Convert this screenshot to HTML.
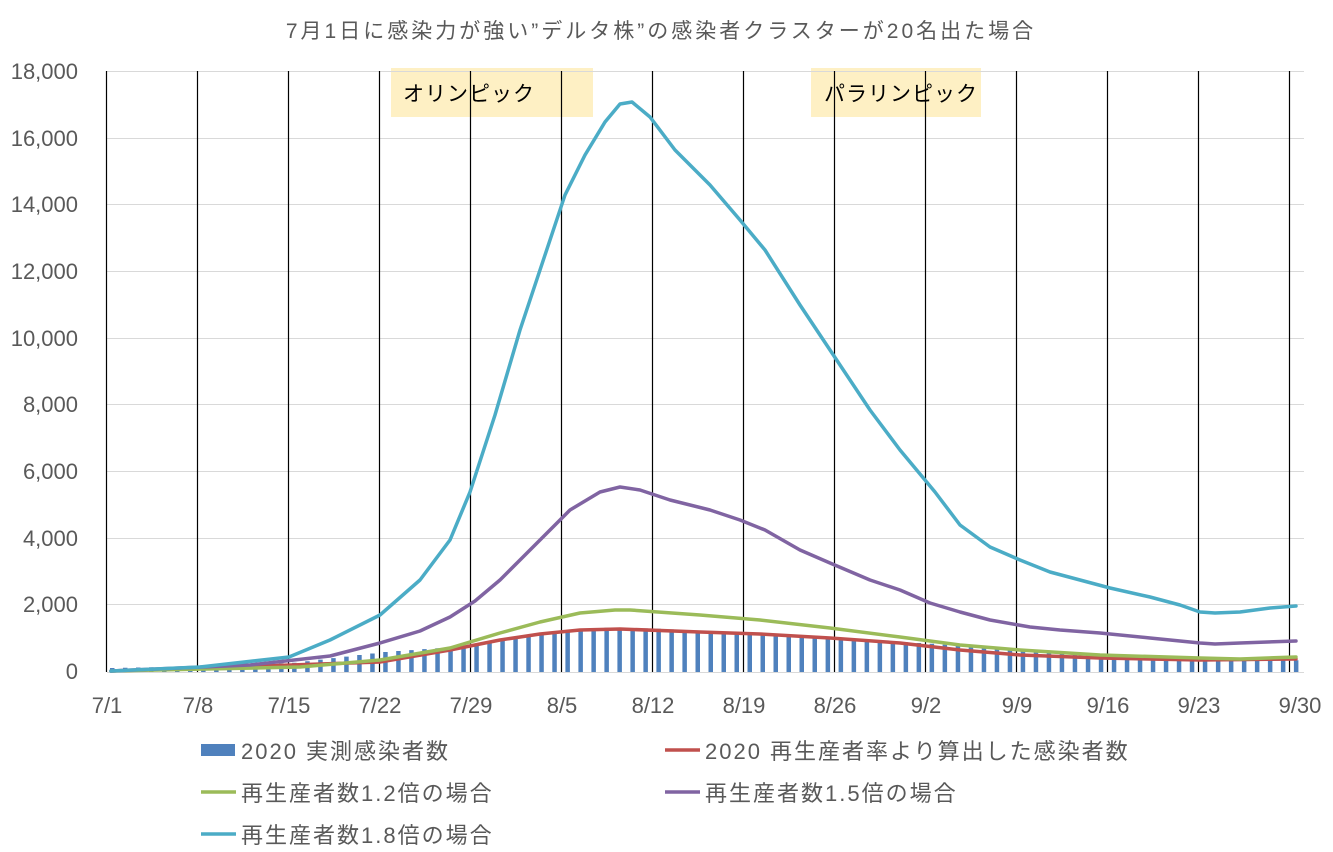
<!DOCTYPE html>
<html><head><meta charset="utf-8"><style>
body{margin:0;background:#fff;}
svg text{font-family:"Liberation Sans","Noto Sans CJK JP",sans-serif;}
</style></head><body>
<svg width="1333" height="847" viewBox="0 0 1333 847" xmlns="http://www.w3.org/2000/svg">
<text x="661" y="38" font-size="21" letter-spacing="3" fill="#595959" text-anchor="middle">7月1日に感染力が強い”デルタ株”の感染者クラスターが20名出た場合</text>
<rect x="391" y="68" width="202" height="49" fill="#FEF0C4"/>
<rect x="811" y="68" width="170" height="49" fill="#FEF0C4"/>
<g stroke="#d9d9d9" stroke-width="1">
<line x1="107" y1="71.5" x2="1304" y2="71.5"/><line x1="107" y1="138.5" x2="1304" y2="138.5"/>
<line x1="107" y1="204.5" x2="1304" y2="204.5"/><line x1="107" y1="271.5" x2="1304" y2="271.5"/>
<line x1="107" y1="338.5" x2="1304" y2="338.5"/><line x1="107" y1="404.5" x2="1304" y2="404.5"/>
<line x1="107" y1="471.5" x2="1304" y2="471.5"/><line x1="107" y1="538.5" x2="1304" y2="538.5"/>
<line x1="107" y1="604.5" x2="1304" y2="604.5"/><line x1="107" y1="672.5" x2="1304" y2="672.5"/>
</g>
<g stroke="#000" stroke-width="1.2">
<line x1="106.5" y1="71" x2="106.5" y2="672"/><line x1="197.5" y1="71" x2="197.5" y2="672"/>
<line x1="288.5" y1="71" x2="288.5" y2="672"/><line x1="379.5" y1="71" x2="379.5" y2="672"/>
<line x1="470.5" y1="71" x2="470.5" y2="672"/><line x1="561.5" y1="71" x2="561.5" y2="672"/>
<line x1="652.5" y1="71" x2="652.5" y2="672"/><line x1="743.5" y1="71" x2="743.5" y2="672"/>
<line x1="834.5" y1="71" x2="834.5" y2="672"/><line x1="925.5" y1="71" x2="925.5" y2="672"/>
<line x1="1016.5" y1="71" x2="1016.5" y2="672"/><line x1="1107.5" y1="71" x2="1107.5" y2="672"/>
<line x1="1198.5" y1="71" x2="1198.5" y2="672"/><line x1="1289.5" y1="71" x2="1289.5" y2="672"/>
</g>
<text x="403" y="101" font-size="21" letter-spacing="1" fill="#000">オリンピック</text>
<text x="824" y="101" font-size="21" letter-spacing="1" fill="#000">パラリンピック</text>
<path fill="#4F81BD" d="M110,672v-4h4.5V672z M123,672v-4.2h4.5V672z M136,672v-4.5h4.5V672z M149,672v-4.7h4.5V672z M162,672v-5h4.5V672z M175,672v-5.2h4.5V672z M188,672v-5.5h4.5V672z M201.1,672v-5.7h4.5V672z
M214.1,672v-6.2h4.5V672z M227.1,672v-6.7h4.5V672z M240.1,672v-7.2h4.5V672z M253.1,672v-7.8h4.5V672z M266.1,672v-8.3h4.5V672z M279.1,672v-8.8h4.5V672z M292.1,672v-9.3h4.5V672z
M305.2,672v-10.8h4.5V672z M318.2,672v-12.4h4.5V672z M331.2,672v-13.9h4.5V672z M344.2,672v-15.4h4.5V672z M357.2,672v-17h4.5V672z M370.2,672v-18.5h4.5V672z M383.2,672v-20h4.5V672z
M396.2,672v-21h4.5V672z M409.2,672v-21.9h4.5V672z M422.2,672v-22.9h4.5V672z M435.3,672v-23.8h4.5V672z M448.3,672v-24.8h4.5V672z M461.3,672v-25.7h4.5V672z M474.3,672v-26.7h4.5V672z
M487.3,672v-28.8h4.5V672z M500.3,672v-31h4.5V672z M513.3,672v-33.1h4.5V672z M526.3,672v-35.3h4.5V672z M539.3,672v-37.4h4.5V672z M552.3,672v-39.6h4.5V672z M565.4,672v-41.7h4.5V672z
M578.4,672v-42.6h4.5V672z M591.4,672v-43.4h4.5V672z M604.4,672v-44.3h4.5V672z M617.4,672v-44h4.5V672z M630.4,672v-43.8h4.5V672z M643.4,672v-43.6h4.5V672z M656.4,672v-43.3h4.5V672z
M669.4,672v-42.6h4.5V672z M682.4,672v-41.9h4.5V672z M695.5,672v-41.2h4.5V672z M708.5,672v-40.4h4.5V672z M721.5,672v-39.7h4.5V672z M734.5,672v-39h4.5V672z M747.5,672v-38.3h4.5V672z
M760.5,672v-37.6h4.5V672z M773.5,672v-36.9h4.5V672z M786.5,672v-36.2h4.5V672z M799.5,672v-35.5h4.5V672z M812.5,672v-34.8h4.5V672z M825.6,672v-34h4.5V672z M838.6,672v-33.3h4.5V672z
M851.6,672v-32.6h4.5V672z M864.6,672v-31.9h4.5V672z M877.6,672v-31.2h4.5V672z M890.6,672v-30.5h4.5V672z M903.6,672v-29.8h4.5V672z M916.6,672v-29h4.5V672z M929.6,672v-28.3h4.5V672z
M942.6,672v-27.4h4.5V672z M955.7,672v-26.4h4.5V672z M968.7,672v-25.5h4.5V672z M981.7,672v-24.5h4.5V672z M994.7,672v-23.6h4.5V672z M1007.7,672v-22.6h4.5V672z M1020.7,672v-21.7h4.5V672z
M1033.7,672v-21h4.5V672z M1046.7,672v-20.3h4.5V672z M1059.7,672v-19.6h4.5V672z M1072.7,672v-18.9h4.5V672z M1085.8,672v-18.1h4.5V672z M1098.8,672v-17.4h4.5V672z M1111.8,672v-16.7h4.5V672z
M1124.8,672v-16.2h4.5V672z M1137.8,672v-15.7h4.5V672z M1150.8,672v-15.2h4.5V672z M1163.8,672v-14.7h4.5V672z M1176.8,672v-14.3h4.5V672z M1189.8,672v-13.8h4.5V672z M1202.8,672v-13.3h4.5V672z
M1215.9,672v-13.1h4.5V672z M1228.9,672v-12.8h4.5V672z M1241.9,672v-12.6h4.5V672z M1254.9,672v-12.4h4.5V672z M1267.9,672v-12.2h4.5V672z M1280.9,672v-11.9h4.5V672z M1293.9,672v-11.7h4.5V672z"/>
<g fill="none" stroke-width="3.5" stroke-linejoin="round" stroke-linecap="round">
<polyline stroke="#C0504D" points="111,671 380,662 450,650 500,640 540,634 580,630 620,629 700,632 760,634 830,638 900,643 960,650 1020,655 1100,658 1200,660 1296,659"/>
<polyline stroke="#9BBB59" points="111,671 300,667 380,660 450,648 500,633 540,622 580,613 615,610 630,610 700,615 760,620 830,628 900,637 960,645 1020,650 1100,655 1200,658 1240,659 1296,657"/>
<polyline stroke="#8064A2" points="111,671 250,665 330,656 380,643 420,631 450,617 475,601 500,580 540,540 570,510 600,492 620,487 640,490 670,500 710,510 740,520 765,530 800,550 830,563 870,580 900,590 930,603 960,612 990,620 1030,627 1060,630 1100,633 1150,638 1200,643 1215,644 1240,643 1296,641"/>
<polyline stroke="#4BACC6" points="111,671 200,667 289,657 330,640 380,615 420,580 450,540 470,492 495,415 520,330 545,255 565,195 585,155 605,122 620,104 632,102 650,117 675,150 710,185 740,220 765,250 800,305 830,350 870,410 900,450 935,492 960,525 990,547 1020,560 1050,572 1080,580 1110,588 1150,597 1180,605 1200,612 1215,613 1240,612 1270,608 1296,606"/>
</g>
<g font-size="22" fill="#595959" text-anchor="end">
<text x="78" y="79">18,000</text><text x="78" y="146">16,000</text><text x="78" y="212">14,000</text>
<text x="78" y="279">12,000</text><text x="78" y="346">10,000</text><text x="78" y="412">8,000</text>
<text x="78" y="479">6,000</text><text x="78" y="546">4,000</text><text x="78" y="612">2,000</text>
<text x="78" y="679">0</text>
</g>
<g font-size="22" fill="#595959" text-anchor="middle">
<text x="107" y="713">7/1</text><text x="198" y="713">7/8</text><text x="289" y="713">7/15</text>
<text x="380" y="713">7/22</text><text x="471" y="713">7/29</text><text x="562" y="713">8/5</text>
<text x="653" y="713">8/12</text><text x="744" y="713">8/19</text><text x="835" y="713">8/26</text>
<text x="926" y="713">9/2</text><text x="1017" y="713">9/9</text><text x="1108" y="713">9/16</text>
<text x="1199" y="713">9/23</text><text x="1300" y="713">9/30</text>
</g>
<g font-size="22" letter-spacing="2" fill="#595959">
<rect x="201" y="744" width="34" height="12" fill="#4F81BD"/>
<text x="241" y="759">2020 実測感染者数</text>
<line x1="665" y1="750" x2="700" y2="750" stroke="#C0504D" stroke-width="3.5"/>
<text x="705" y="759">2020 再生産者率より算出した感染者数</text>
<line x1="201" y1="792" x2="236" y2="792" stroke="#9BBB59" stroke-width="3.5"/>
<text x="241" y="801">再生産者数1.2倍の場合</text>
<line x1="665" y1="792" x2="700" y2="792" stroke="#8064A2" stroke-width="3.5"/>
<text x="705" y="801">再生産者数1.5倍の場合</text>
<line x1="201" y1="834" x2="236" y2="834" stroke="#4BACC6" stroke-width="3.5"/>
<text x="241" y="843">再生産者数1.8倍の場合</text>
</g>
</svg>
</body></html>
